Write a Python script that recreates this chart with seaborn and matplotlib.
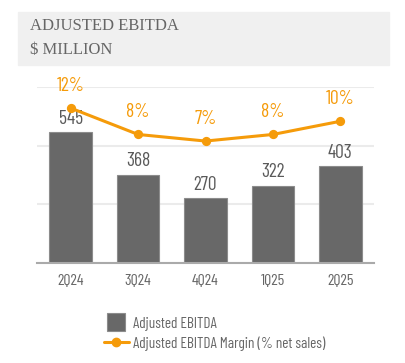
import numpy as np
import pandas as pd
import seaborn as sns
import matplotlib.pyplot as plt
from matplotlib.patches import Rectangle
from matplotlib.lines import Line2D

quarters = ['2Q24', '3Q24', '4Q24', '1Q25', '2Q25']
ebitda = [545, 368, 270, 322, 403]
margin = [12, 8, 7, 8, 10]

bar_color = '#686868'
orange = '#f59b0a'
text_gray = '#666666'

sns.set_style("white")
plt.rcParams['font.family'] = ['Barlow Condensed', 'DejaVu Sans']

df = pd.DataFrame({'quarter': quarters, 'ebitda': ebitda, 'margin': margin})

fig = plt.figure(figsize=(4.06, 3.63), dpi=100)
ax = fig.add_axes([37 / 406, 1 - 263 / 363, 337 / 406, 176 / 363])

# title box
fig.patches.append(Rectangle((18 / 406, 1 - 65 / 363), 371 / 406, 53 / 363,
                             transform=fig.transFigure, color='#f0f0f0', zorder=0))
fig.text(30 / 406, 1 - 26 / 363, 'ADJUSTED EBITDA', family='Liberation Serif',
         fontsize=12, color=text_gray, va='center')
fig.text(30 / 406, 1 - 50 / 363, '$ MILLION', family='Liberation Serif',
         fontsize=12, color=text_gray, va='center')

sns.barplot(data=df, x='quarter', y='ebitda', ax=ax, color=bar_color,
            saturation=1, width=0.63, edgecolor='#8c8c8c', linewidth=0.8, zorder=2)
ax.set_ylim(0, 732)
ax.set_xlim(-0.5, 4.5)
ax.set_yticks(np.linspace(0, 732, 4))
ax.set_yticklabels([])
ax.yaxis.grid(True, color='#ebebeb', linewidth=1.5, zorder=0)
ax.set_axisbelow(True)
for s in ['top', 'left', 'right']:
    ax.spines[s].set_visible(False)
ax.spines['bottom'].set_color('#aaaaaa')
ax.spines['bottom'].set_linewidth(1.5)
ax.tick_params(axis='y', length=0)
ax.tick_params(axis='x', length=0, labelsize=11.5, labelcolor=text_gray, pad=8)
ax.set_xlabel('')
ax.set_ylabel('')
for i, v in enumerate(ebitda):
    ax.annotate(str(v), (i, v), xytext=(0, 6), textcoords='offset points',
                ha='center', va='baseline', fontsize=14, color='#5a5a5a')

ax2 = ax.twinx()
sns.pointplot(data=df, x='quarter', y='margin', ax=ax2, color=orange,
              markers='o', markersize=5, linewidth=2.2, zorder=3)
ax2.set_ylim(-11.5, 15.2)
ax2.set_xlim(-0.5, 4.5)
ax2.axis('off')
for i, v in enumerate(margin):
    ax2.annotate(f'{v}%', (i, v), xytext=(0, 12.5), textcoords='offset points',
                 ha='center', va='baseline', fontsize=14, color=orange)

handles = [Line2D([], [], color=bar_color, marker='s', markersize=12.5, linestyle='none',
                  markeredgecolor='#8c8c8c', markeredgewidth=0.8),
           Line2D([], [], color=orange, marker='o', markersize=6, linewidth=2.2)]
fig.legend(handles, ['Adjusted EBITDA', 'Adjusted EBITDA Margin (% net sales)'],
           loc='upper left', bbox_to_anchor=(96 / 406, 1 - 308 / 363), frameon=False,
           fontsize=11, labelcolor=text_gray, handlelength=1.65, handleheight=1.0,
           handletextpad=0.25, labelspacing=0.35, borderpad=0)

fig.savefig('out.png', dpi=100)
